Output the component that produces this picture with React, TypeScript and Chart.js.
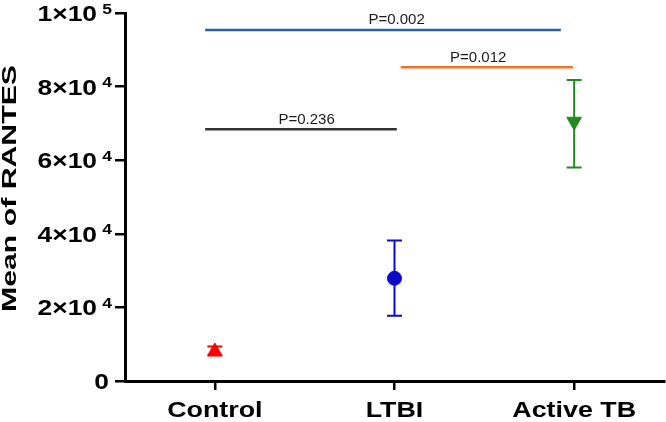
import React, { useEffect, useRef } from 'react';
import { Chart, registerables } from 'chart.js';

Chart.register(...registerables);

// ---- data ----
const categories = ['Control', 'LTBI', 'Active TB'];
const means = [8150, 27900, 70500];
const upperErr = [9400, 38200, 81800];
const lowerErr = [6900, 17700, 58000];
const groupColors = ['#ff0000', '#0a0ac8', '#1f8a1f'];
const pointStyles = ['triangle', 'circle', 'triangle'];
const pointRotations = [0, 0, 180];
const pointRadii = [8, 7, 8.5];

const yTickValues = [0, 20000, 40000, 60000, 80000, 100000];
const yTickMantissas = ['0', '2', '4', '6', '8', '1'];
const yTickExponents = ['', '4', '4', '4', '4', '5'];
const yTitle = 'Mean of RANTES';

const pLabels = ['P=0.002', 'P=0.012', 'P=0.236'];
const pLineY = [95400, 85250, 68400];
const pLineStart = [-0.054, 1.035, -0.054];
const pLineEnd = [1.926, 1.993, 1.013];
const pTextX = [1.012, 1.466, 0.511];
const pLineColors = ['#2f5ea6', '#f07128', '#333333'];

const FONT = 'Arial, "Liberation Sans", Helvetica, sans-serif';

function drawStretched(
  ctx: CanvasRenderingContext2D,
  text: string,
  x: number,
  y: number,
  align: CanvasTextAlign,
  sx: number,
  font: string,
  rotate = 0
) {
  ctx.save();
  ctx.translate(x, y);
  if (rotate) ctx.rotate(rotate);
  ctx.scale(sx, 1);
  ctx.font = font;
  ctx.textAlign = align;
  ctx.textBaseline = 'alphabetic';
  ctx.fillText(text, 0, 0);
  ctx.restore();
}

const customPlugin = {
  id: 'customDrawing',
  beforeDatasetsDraw(chart: any) {
    const { ctx } = chart;
    const xs = chart.scales.x;
    const ys = chart.scales.y;
    ctx.save();
    for (let i = 0; i < categories.length; i++) {
      const px = xs.getPixelForValue(i);
      const top = ys.getPixelForValue(upperErr[i]);
      const bot = ys.getPixelForValue(lowerErr[i]);
      ctx.strokeStyle = groupColors[i];
      ctx.lineWidth = 2;
      ctx.beginPath();
      ctx.moveTo(px, top);
      ctx.lineTo(px, bot);
      ctx.moveTo(px - 7.5, top);
      ctx.lineTo(px + 7.5, top);
      ctx.moveTo(px - 7.5, bot);
      ctx.lineTo(px + 7.5, bot);
      ctx.stroke();
    }
    ctx.restore();
  },
  afterDraw(chart: any) {
    const { ctx } = chart;
    const xs = chart.scales.x;
    const ys = chart.scales.y;
    ctx.save();
    ctx.fillStyle = '#000';
    // y tick labels with superscript exponents
    for (let i = 0; i < yTickValues.length; i++) {
      const py = ys.getPixelForValue(yTickValues[i]);
      if (yTickExponents[i]) {
        drawStretched(ctx, yTickMantissas[i] + '×10', 97, py + 8, 'right', 1.2, `bold 22px ${FONT}`);
        drawStretched(ctx, yTickExponents[i], 112, py + 0.5, 'right', 1.25, `bold 14px ${FONT}`);
      } else {
        drawStretched(ctx, yTickMantissas[i], 109, py + 7.5, 'right', 1.2, `bold 22px ${FONT}`);
      }
    }
    // x category labels
    for (let i = 0; i < categories.length; i++) {
      const px = xs.getPixelForValue(i);
      drawStretched(ctx, categories[i], px, xs.top + 36, 'center', 1.22, `bold 22px ${FONT}`);
    }
    // y axis title
    const cy = (ys.getPixelForValue(0) + ys.getPixelForValue(100000)) / 2 - 8.5;
    drawStretched(ctx, yTitle, 16, cy, 'center', 1.44, `bold 21px ${FONT}`, -Math.PI / 2);
    // p-value labels
    ctx.fillStyle = '#1a1a1a';
    for (let i = 0; i < pLabels.length; i++) {
      const px = xs.getPixelForValue(pTextX[i]);
      const py = ys.getPixelForValue(pLineY[i]) - 5.5;
      drawStretched(ctx, pLabels[i], px, py, 'center', 1, `15px ${FONT}`);
    }
    ctx.restore();
  },
};

export default function App() {
  const canvasRef = useRef<HTMLCanvasElement | null>(null);

  useEffect(() => {
    if (!canvasRef.current) return;

    const pointDatasets = categories.map((c, i) => ({
      type: 'scatter' as const,
      label: c,
      data: [{ x: i, y: means[i] }],
      pointStyle: pointStyles[i],
      rotation: pointRotations[i],
      pointRadius: pointRadii[i],
      backgroundColor: groupColors[i],
      borderColor: groupColors[i],
      borderWidth: 1,
      showLine: false,
    }));

    const lineDatasets = pLabels.map((p, i) => ({
      type: 'line' as const,
      label: p,
      data: [
        { x: pLineStart[i], y: pLineY[i] },
        { x: pLineEnd[i], y: pLineY[i] },
      ],
      borderColor: pLineColors[i],
      borderWidth: 2.5,
      pointRadius: 0,
      showLine: true,
      fill: false,
    }));

    const chart = new Chart(canvasRef.current, {
      type: 'scatter',
      data: { datasets: [...pointDatasets, ...lineDatasets] as any },
      options: {
        animation: false,
        responsive: false,
        layout: { autoPadding: false, padding: { top: 13, right: 2, bottom: 0, left: 0 } },
        plugins: {
          legend: { display: false },
          tooltip: { enabled: false },
        },
        scales: {
          x: {
            type: 'linear',
            min: -0.5,
            max: 2.5,
            afterBuildTicks: (s: any) => {
              s.ticks = categories.map((_, i) => ({ value: i }));
            },
            afterFit: (s: any) => {
              s.height = 41;
            },
            ticks: { display: false },
            grid: {
              drawOnChartArea: false,
              drawTicks: true,
              tickLength: 9,
              color: '#000',
              lineWidth: 2.5,
            },
            border: { display: true, color: '#000', width: 3 },
          },
          y: {
            type: 'linear',
            min: 0,
            max: 100000,
            afterBuildTicks: (s: any) => {
              s.ticks = yTickValues.map((v) => ({ value: v }));
            },
            afterFit: (s: any) => {
              s.width = 125;
            },
            ticks: { display: false },
            grid: {
              drawOnChartArea: false,
              drawTicks: true,
              tickLength: 10,
              color: '#000',
              lineWidth: 2.5,
            },
            border: { display: true, color: '#000', width: 3 },
          },
        },
      } as any,
      plugins: [customPlugin],
    });

    return () => chart.destroy();
  }, []);

  return (
    <div style={{ position: 'absolute', left: 0, top: 0, width: 666, height: 422, background: '#fff' }}>
      <canvas ref={canvasRef} width={666} height={422} />
    </div>
  );
}
